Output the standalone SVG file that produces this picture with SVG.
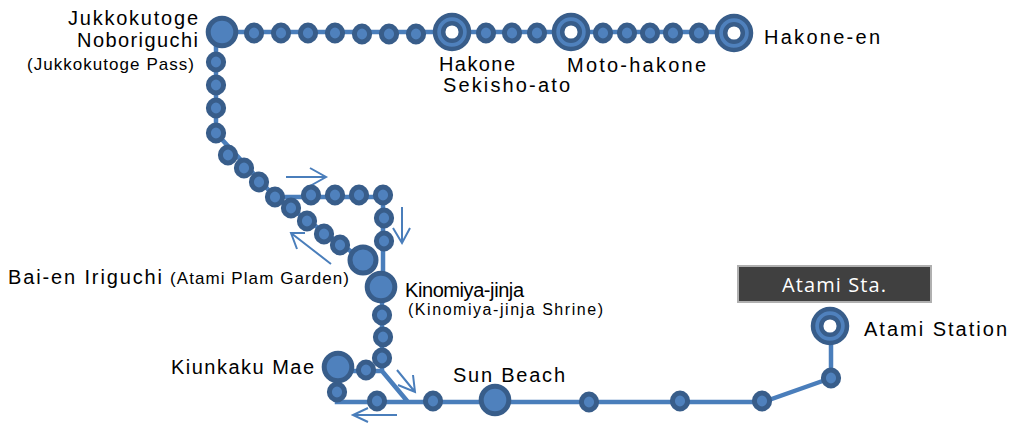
<svg xmlns="http://www.w3.org/2000/svg" width="1012" height="423" viewBox="0 0 1012 423">
<style>
text{font-family:"Liberation Sans","Noto Sans CJK JP",sans-serif;fill:#000;font-size:23px}
.s{font-size:17px}
.st{font-size:20px}
.line{fill:none;stroke:#4a7ebb;stroke-width:4.5}
.arr{fill:none;stroke:#4a7ebb;stroke-width:2}
.n{fill:#4f81bd;stroke:#385d8a;stroke-width:5}
.r1{fill:#4f81bd;stroke:#385d8a;stroke-width:4.5}
.r2{fill:#fff;stroke:#385d8a;stroke-width:4.5}
</style>
<defs>
<ellipse id="d" class="n" rx="7.6" ry="7.9"/>
<g id="ring"><circle class="r1" r="17"/><circle class="r2" r="8.8"/></g>
</defs>
<rect id="sta-box" x="738" y="266" width="193" height="36" fill="#404040" stroke="#b0b0b0" stroke-width="2"/>
<g id="connectors">
<path class="line" d="M222 32H735M216 32V133L275 197H383V287M275 197L363 260M382 287V358L382 371H366H338V367M382 371L408 402M337 392V402H763L831 378V326"/>
<path class="arr" d="M286 177H326M310 168L326 177L310 186"/>
<path class="arr" d="M402 207V243M393 228L402 243L410 228"/>
<path class="arr" d="M331 264L291 233M305 233L291 233L297 249"/>
<path class="arr" d="M397 370L415 392M413 375L415 392L398 385"/>
<path class="arr" d="M397 415H353M368 408L353 415L368 422"/>
</g>
<g id="jukkokutoge"><circle class="n" cx="222" cy="32" r="13.8"/><text x="198" y="25" text-anchor="end" class="st" textLength="130">Jukkokutoge</text><text x="198" y="47" text-anchor="end" class="st" textLength="121">Noboriguchi</text><text x="194" y="70" text-anchor="end" class="s" textLength="167">(Jukkokutoge Pass)</text></g>
<g id="dots">
<use href="#d" x="254" y="33"/><use href="#d" x="281" y="33"/><use href="#d" x="308" y="33"/><use href="#d" x="335" y="33"/><use href="#d" x="362" y="34"/><use href="#d" x="389" y="34"/><use href="#d" x="416" y="34"/>
<use href="#d" x="486" y="33"/><use href="#d" x="512" y="33"/><use href="#d" x="537" y="33"/>
<use href="#d" x="603" y="33"/><use href="#d" x="627" y="33"/><use href="#d" x="650" y="33"/><use href="#d" x="673" y="33"/><use href="#d" x="699" y="33"/>
<use href="#d" x="216" y="62"/><use href="#d" x="216" y="85"/><use href="#d" x="216" y="108"/><use href="#d" x="216" y="133"/>
<use href="#d" x="228" y="155"/><use href="#d" x="244" y="168"/><use href="#d" x="259" y="182"/><use href="#d" x="275" y="197"/>
<use href="#d" x="291" y="208"/><use href="#d" x="307" y="221"/><use href="#d" x="324" y="234"/><use href="#d" x="340" y="245"/>
<use href="#d" x="311" y="195"/><use href="#d" x="335" y="195"/><use href="#d" x="359" y="195"/><use href="#d" x="383" y="195"/>
<use href="#d" x="384" y="218"/><use href="#d" x="384" y="241"/>
<use href="#d" x="382" y="315"/><use href="#d" x="383" y="337"/><use href="#d" x="382" y="358"/>
<use href="#d" x="366" y="370"/><use href="#d" x="337" y="392"/><use href="#d" x="377" y="401"/><use href="#d" x="433" y="401"/>
<use href="#d" x="589" y="402"/><use href="#d" x="680" y="401"/><use href="#d" x="762" y="401"/><use href="#d" x="831" y="378"/>
</g>
<g id="hakone-sekisho"><use href="#ring" x="452" y="32"/><text x="439" y="71" class="st" textLength="76">Hakone</text><text x="443" y="92" class="st" textLength="127">Sekisho-ato</text></g>
<g id="moto-hakone"><use href="#ring" x="571" y="32"/><text x="567" y="72" textLength="139" class="st">Moto-hakone</text></g>
<g id="hakone-en"><use href="#ring" x="734" y="33"/><text x="764" y="44" class="st" textLength="116">Hakone-en</text></g>
<g id="bai-en"><circle class="n" cx="363" cy="260" r="13"/><text x="8" y="284" class="st" textLength="154">Bai-en Iriguchi</text><text x="170" y="284" class="s" textLength="179">(Atami Plam Garden)</text></g>
<g id="kinomiya"><circle class="n" cx="381" cy="287" r="13.8"/><text x="405" y="297" textLength="119" class="st">Kinomiya-jinja</text><text x="408" y="315" class="s" style="font-size:16px" textLength="195">(Kinomiya-jinja Shrine)</text></g>
<g id="kiunkaku"><circle class="n" cx="338" cy="367" r="13.8"/><text x="171" y="374" class="st" textLength="143">Kiunkaku Mae</text></g>
<g id="sun-beach"><circle class="n" cx="495" cy="400" r="13.8"/><text x="453" y="382" class="st" textLength="112">Sun Beach</text></g>
<g id="atami"><use href="#ring" x="830" y="326"/><text x="864" y="336" class="st" textLength="143">Atami Station</text></g>
<text id="sta-label" x="782" y="292" textLength="104" style="font-family:'Open Sans','Liberation Sans',sans-serif;font-size:20px;fill:#fff">Atami Sta.</text>
</svg>
